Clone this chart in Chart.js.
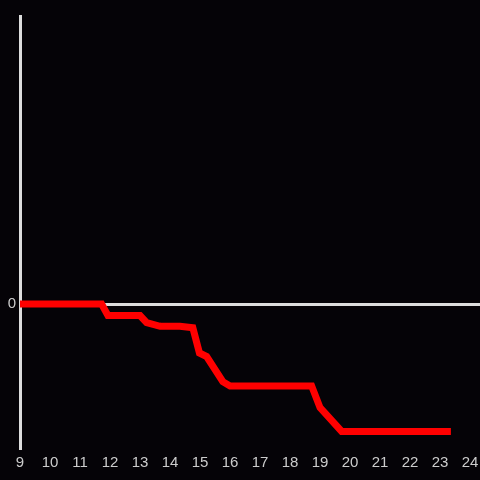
<!DOCTYPE html>
<html>
<head>
<meta charset="utf-8">
<script src="https://cdn.jsdelivr.net/npm/chart.js@4"></script>
<style>
  html, body { margin: 0; padding: 0; background: #050307; }
  #wrap { width: 480px; height: 480px; }
</style>
</head>
<body>
<div id="wrap"><canvas id="chart"></canvas></div>
<script>
// hours of the day and the running value
const hours = [9, 11.72, 11.93, 13.0, 13.22, 13.67, 14.33, 14.76, 14.98, 15.22, 15.76, 16.0, 18.72, 19.0, 19.72, 23.36];
const values = [0, 0, -8, -8, -13, -15.5, -15.5, -16.5, -34, -36.5, -54, -57, -57, -72, -88.5, -88.5];
const hourTicks = [9, 10, 11, 12, 13, 14, 15, 16, 17, 18, 19, 20, 21, 22, 23, 24];
const valueTicks = [0];

const points = hours.map((h, i) => ({ x: h, y: values[i] }));

new Chart(document.getElementById("chart"), {
    type: "line",
    data: {
        datasets: [{
            data: points,
            borderColor: "#ff0000",
            borderWidth: 7,
            pointRadius: 0,
            tension: 0,
            fill: false,
            clip: false
        }]
    },
    options: {
        responsive: true,
        maintainAspectRatio: false,
        animation: false,
        layout: { padding: { top: 16, right: 0, left: 0, bottom: 0 } },
        plugins: { legend: { display: false }, tooltip: { enabled: false } },
        scales: {
            x: {
                type: "linear",
                min: 9,
                max: 24.33,
                afterBuildTicks: (s) => { s.ticks = hourTicks.map(v => ({ value: v })); },
                afterFit: (s) => { s.height = 32; s.paddingLeft = 0; s.paddingRight = 0; },
                grid: { display: false, drawTicks: false },
                border: { display: false },
                ticks: {
                    color: "#cccccc",
                    padding: 6,
                    maxRotation: 0,
                    autoSkip: false,
                    font: { family: "Liberation Sans, Arial, sans-serif", size: 15 }
                }
            },
            y: {
                min: -100,
                max: 200,
                afterBuildTicks: (s) => { s.ticks = valueTicks.map(v => ({ value: v })); },
                afterFit: (s) => { s.width = 20; s.paddingTop = 0; s.paddingBottom = 0; },
                grid: { color: "#dddddd", lineWidth: 3, drawTicks: false },
                border: { display: true, color: "#dddddd", width: 3 },
                ticks: {
                    color: "#cccccc",
                    padding: 4,
                    font: { family: "Liberation Sans, Arial, sans-serif", size: 15 }
                }
            }
        }
    }
});
</script>
</body>
</html>
